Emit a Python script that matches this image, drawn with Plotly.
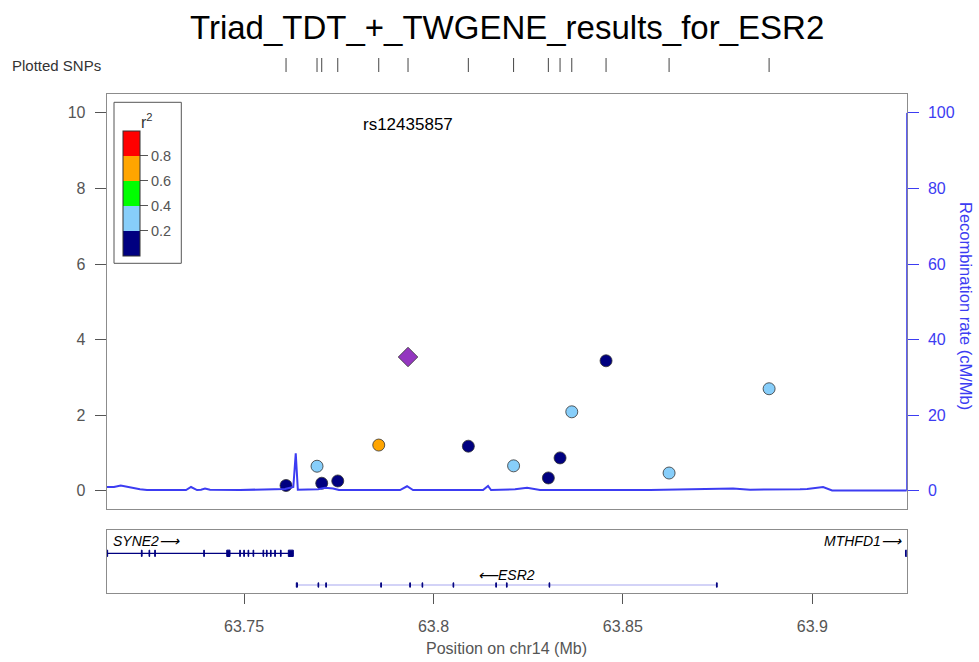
import plotly.graph_objects as go

W, H = 979, 662

# ---------------- data ----------------
snp_pos = [63.76109, 63.76927, 63.77051, 63.77474, 63.78556, 63.80921, 63.82115,
           63.83033, 63.83342, 63.83651, 63.84556, 63.86220, 63.88860]
snp_logp = [0.14, 0.65, 0.20, 0.26, 1.21, 1.18, 0.66, 0.34, 0.87, 2.09, 3.44, 0.47, 2.70]
snp_r2 = [0.1, 0.3, 0.1, 0.1, 0.7, 0.1, 0.3, 0.1, 0.1, 0.3, 0.1, 0.3, 0.3]

index_name = "rs12435857"
index_pos = 63.79329
index_logp = 3.54

recomb_pos = [63.71375, 63.71568, 63.71745, 63.71938, 63.72254, 63.72439, 63.73469,
              63.73601, 63.73680, 63.73759, 63.73865, 63.73970, 63.74102, 63.74894,
              63.76082, 63.76301, 63.76365, 63.76420, 63.76954, 63.77138, 63.77350,
              63.77508, 63.79118, 63.79303, 63.79461, 63.81309, 63.81441, 63.81520,
              63.82154, 63.82471, 63.82814, 63.84398, 63.85718, 63.87909, 63.88358,
              63.89678, 63.89863, 63.90285, 63.90523, 63.92495]
recomb_rate = [1.0, 1.0, 1.4, 1.0, 0.4, 0.2, 0.2,
               1.0, 0.6, 0.2, 0.3, 0.6, 0.3, 0.2,
               0.5, 1.0, 9.9, 0.3, 0.4, 0.8, 0.6,
               0.2, 0.2, 1.2, 0.2, 0.2, 1.3, 0.2,
               0.4, 0.8, 0.2, 0.2, 0.2, 0.6, 0.3,
               0.4, 0.5, 1.0, 0.1, 0.1]

syne2_span = (63.71375, 63.76301)
syne2_exons = [(63.71375, 63.71400), (63.72290, 63.72310), (63.72492, 63.72510),
               (63.72642, 63.72660), (63.73936, 63.73954), (63.74543, 63.74630),
               (63.74886, 63.74904), (63.74992, 63.75010), (63.75106, 63.75124),
               (63.75238, 63.75256), (63.75501, 63.75519), (63.75591, 63.75609),
               (63.75697, 63.75715), (63.75810, 63.75828), (63.75961, 63.75979),
               (63.76169, 63.76301)]
esr2_span = (63.76391, 63.87479)
esr2_exons = [(63.76380, 63.76410), (63.76953, 63.76971), (63.77157, 63.77175),
              (63.78609, 63.78627), (63.79374, 63.79392), (63.79699, 63.79717),
              (63.80517, 63.80535), (63.81645, 63.81663), (63.81927, 63.81945),
              (63.83052, 63.83070), (63.87470, 63.87490)]
mthfd1_exons = [(63.92460, 63.92495)]

x_ticks = [63.75, 63.8, 63.85, 63.9]
x_ticktext = ["63.75", "63.8", "63.85", "63.9"]
y_ticks = [0, 2, 4, 6, 8, 10]
y2_ticks = [0, 20, 40, 60, 80, 100]
r2_ticks = [0.2, 0.4, 0.6, 0.8]

# ---------------- styling ----------------
NAVY = "#000080"
LB = "#87CEFA"
r2_scale = [[0.0, NAVY], [0.2, NAVY], [0.2, LB], [0.4, LB], [0.4, "#00FF00"],
            [0.6, "#00FF00"], [0.6, "#FFA500"], [0.8, "#FFA500"], [0.8, "#FF0000"],
            [1.0, "#FF0000"]]
GRAY = "#555555"
FRAME = "#8c8c8c"
BLUE = "#3c3cf2"
FONT = "Liberation Sans, Arial, Helvetica, sans-serif"

def py(p):  # pixel y -> paper
    return 1 - p / H

def px(p):
    return p / W

XD = [px(106.7), px(906.7)]
XR = [63.71375, 63.92492]

fig = go.Figure()

# recombination line
fig.add_trace(go.Scatter(x=recomb_pos, y=recomb_rate, mode="lines", xaxis="x", yaxis="y2",
                         line=dict(color=BLUE, width=2), hoverinfo="skip", showlegend=False))

# SNPs coloured by r2 (colour bar acts as legend)
fig.add_trace(go.Scatter(
    x=snp_pos, y=snp_logp, mode="markers", xaxis="x", yaxis="y", showlegend=False,
    marker=dict(size=12, color=snp_r2, colorscale=r2_scale, cmin=0, cmax=1,
                line=dict(color="#333333", width=0.8), showscale=True,
                colorbar=dict(x=px(123.3), xanchor="left", y=py(193.2), yanchor="middle",
                              len=125, lenmode="pixels", thickness=17, thicknessmode="pixels",
                              outlinewidth=1, outlinecolor="#333333", xpad=0, ypad=0,
                              borderwidth=0, tickvals=r2_ticks,
                              ticktext=[f"{v:.1f}" for v in r2_ticks], ticks="outside",
                              ticklen=8, tickcolor=GRAY,
                              tickfont=dict(size=14.5, color=GRAY, family=FONT)))))

# index SNP
fig.add_trace(go.Scatter(x=[index_pos], y=[index_logp], mode="markers", xaxis="x", yaxis="y",
                         showlegend=False,
                         marker=dict(symbol="diamond", size=15, color="#9437c0",
                                     line=dict(color="#333333", width=0.8))))

# plotted SNP rug
all_pos = sorted(snp_pos + [index_pos])
rx, ry = [], []
for p in all_pos:
    rx += [p, p, None]
    ry += [0, 1, None]
fig.add_trace(go.Scatter(x=rx, y=ry, mode="lines", xaxis="x", yaxis="y4",
                         line=dict(color="#444444", width=1), hoverinfo="skip", showlegend=False))

# genes
def exon_poly(exons, yc, h):
    xs, ys = [], []
    for a, b in exons:
        xs += [a, b, b, a, a, None]
        ys += [yc - h, yc - h, yc + h, yc + h, yc - h, None]
    return xs, ys

Y_SYNE2, Y_ESR2 = 0.632, 0.131
fig.add_trace(go.Scatter(x=list(syne2_span), y=[Y_SYNE2, Y_SYNE2], mode="lines", xaxis="x2",
                         yaxis="y3", line=dict(color=NAVY, width=1.3), showlegend=False,
                         hoverinfo="skip"))
fig.add_trace(go.Scatter(x=list(esr2_span), y=[Y_ESR2, Y_ESR2], mode="lines", xaxis="x2",
                         yaxis="y3", line=dict(color="#c4c4f4", width=1.3), showlegend=False,
                         hoverinfo="skip"))
for ex, yc, h in [(syne2_exons, Y_SYNE2, 0.05), (esr2_exons, Y_ESR2, 0.035),
                  (mthfd1_exons, Y_SYNE2, 0.05)]:
    xs, ys = exon_poly(ex, yc, h)
    fig.add_trace(go.Scatter(x=xs, y=ys, mode="lines", fill="toself", fillcolor=NAVY,
                             xaxis="x2", yaxis="y3", line=dict(color=NAVY, width=1),
                             showlegend=False, hoverinfo="skip"))

def ann(text, x, y, size, color, xref="paper", xanchor="center", angle=0):
    return dict(text=text, x=x, y=y, xref=xref, yref="paper", xanchor=xanchor,
                yanchor="middle", showarrow=False, textangle=angle,
                font=dict(size=size, color=color, family=FONT))

annotations = [
    ann("Triad_TDT_+_TWGENE_results_for_ESR2", px(507), py(27), 33, "black"),
    ann("Plotted SNPs", px(10), py(65), 15, "#333333", xanchor="left"),
    ann(index_name, index_pos, py(124), 17, "black", xref="x"),
    ann("r<sup>2</sup>", px(147), py(121), 16, "#333333"),
    ann("Recombination rate (cM/Mb)", px(966), py(306), 16.5, BLUE, angle=90),
    ann("Position on chr14 (Mb)", (XD[0] + XD[1]) / 2, py(648), 16, GRAY),
    ann("<i>SYNE2⟶</i>", px(111), py(541), 14, "black", xanchor="left"),
    ann("<i>⟵ESR2</i>", (esr2_span[0] + esr2_span[1]) / 2, py(575), 14, "black", xref="x2"),
    ann("<i>MTHFD1⟶</i>", px(904), py(541), 14, "black", xanchor="right"),
]

shapes = [
    # legend box
    dict(type="rect", xref="paper", yref="paper", x0=px(114), x1=px(181.3), y0=py(263.3),
         y1=py(102.3), line=dict(color="#555555", width=1), fillcolor="rgba(0,0,0,0)"),
    # blue right axis line spanning the recombination scale
    dict(type="line", xref="paper", yref="y2", x0=XD[1], x1=XD[1], y0=0, y1=100,
         line=dict(color=BLUE, width=1)),
]

fig.update_layout(
    width=W, height=H, autosize=False, margin=dict(l=0, r=0, t=0, b=0),
    paper_bgcolor="white", plot_bgcolor="white", showlegend=False,
    font=dict(family=FONT),
    xaxis=dict(domain=XD, range=XR, anchor="y", showticklabels=False, ticks="",
               showgrid=False, zeroline=False, showline=True, mirror=True,
               linecolor=FRAME, linewidth=1),
    yaxis=dict(domain=[py(509.3), py(94)], range=[-0.49, 10.5], tickvals=y_ticks,
               ticks="outside", ticklen=11, tickcolor=GRAY, tickwidth=1,
               tickfont=dict(size=16, color=GRAY, family=FONT), ticklabelstandoff=6,
               showgrid=False, zeroline=False, showline=True, mirror=True,
               linecolor=FRAME, linewidth=1, anchor="x"),
    yaxis2=dict(overlaying="y", side="right", anchor="x", range=[-4.9, 105.0],
                tickvals=y2_ticks, ticks="outside", ticklen=11, tickcolor=BLUE,
                tickfont=dict(size=16, color=BLUE, family=FONT), ticklabelstandoff=6,
                showgrid=False, zeroline=False, showline=False),
    xaxis2=dict(domain=XD, range=XR, anchor="y3", matches="x", tickvals=x_ticks,
                ticktext=x_ticktext, ticks="outside", ticklen=10, tickcolor=GRAY,
                tickfont=dict(size=16, color=GRAY, family=FONT), ticklabelstandoff=8,
                showgrid=False, zeroline=False, showline=True, mirror=True,
                linecolor=FRAME, linewidth=1),
    yaxis3=dict(domain=[py(593.3), py(530)], range=[0, 1], anchor="x2", visible=True,
                showticklabels=False, ticks="", showgrid=False, zeroline=False,
                showline=True, mirror=True, linecolor=FRAME, linewidth=1),
    yaxis4=dict(domain=[py(72), py(58)], range=[0, 1], anchor="x", visible=False),
    annotations=annotations,
    shapes=shapes,
)

fig.write_html("out.html")
